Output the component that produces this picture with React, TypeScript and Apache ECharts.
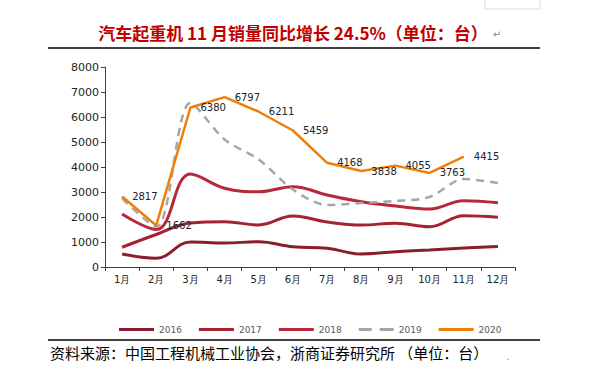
import React, { useEffect, useRef } from "react";
import * as echarts from "echarts";

const months = ["1月", "2月", "3月", "4月", "5月", "6月", "7月", "8月", "9月", "10月", "11月", "12月"];
const s2016 = [520, 350, 1000, 960, 1010, 810, 750, 520, 610, 680, 760, 820];
const s2017 = [790, 1300, 1760, 1810, 1680, 2040, 1800, 1680, 1750, 1610, 2050, 1990];
const s2018 = [2120, 1500, 3720, 3150, 3010, 3210, 2880, 2610, 2440, 2320, 2650, 2570];
const s2019 = [2750, 1600, 6560, 5100, 4300, 3100, 2480, 2560, 2640, 2800, 3520, 3360];
const s2020 = [2817, 1662, 6380, 6797, 6211, 5459, 4168, 3838, 4055, 3763, 4415];
const legendNames = ["2016", "2017", "2018", "2019", "2020"];

const titleText = "汽车起重机 11 月销量同比增长 24.5%（单位：台）";
const sourceText = "资料来源：中国工程机械工业协会，浙商证券研究所 （单位：台）";

const solidIcon = "path://M0,0h35v3h-35z";
const dashIcon = "path://M0,0h13v3h-13z M21,0h14v3h-14z";

export default function App() {
  const ref = useRef<HTMLDivElement>(null);
  useEffect(() => {
    if (!ref.current) return;
    const chart = echarts.init(ref.current, null, { renderer: "svg" });
    const redLine = (name: string, data: number[], color: string) => ({
      name,
      type: "line",
      data,
      smooth: 0.4,
      symbol: "none",
      lineStyle: { color, width: 3 },
      itemStyle: { color },
      z: 2,
    });
    chart.setOption({
      animation: false,
      backgroundColor: "#ffffff",
      grid: { left: 105, right: 85, top: 67, bottom: 112, containLabel: false },
      legend: {
        left: 114,
        top: 320,
        itemWidth: 35,
        itemHeight: 3,
        itemGap: 17,
        textStyle: { fontSize: 9, color: "#595959", fontFamily: "DejaVu Sans" },
        data: legendNames.map((n) => ({ name: n, icon: n === "2019" ? dashIcon : solidIcon })),
      },
      xAxis: {
        type: "category",
        data: months,
        boundaryGap: true,
        axisLine: { lineStyle: { color: "#404040", width: 1 } },
        axisTick: { show: true, length: 4, lineStyle: { color: "#404040" } },
        axisLabel: { fontSize: 10, color: "#222", margin: 7, fontFamily: "DejaVu Sans" },
        splitLine: { show: false },
      },
      yAxis: {
        type: "value",
        min: 0,
        max: 8000,
        interval: 1000,
        axisLine: { show: true, lineStyle: { color: "#404040", width: 1 } },
        axisTick: { show: true, length: 4, lineStyle: { color: "#404040" } },
        axisLabel: {
          fontSize: 11,
          color: "#222",
          margin: 6,
          fontFamily: "DejaVu Sans",
          formatter: (v: number) => String(v),
        },
        splitLine: { show: false },
      },
      series: [
        redLine("2016", s2016, "#8B1E2E"),
        redLine("2017", s2017, "#A52232"),
        redLine("2018", s2018, "#B8283C"),
        {
          name: "2019",
          type: "line",
          data: s2019,
          smooth: 0.3,
          symbol: "none",
          lineStyle: { color: "#A6A6A6", width: 2.5, type: [8, 6] },
          itemStyle: { color: "#A6A6A6" },
          z: 3,
        },
        {
          name: "2020",
          type: "line",
          data: s2020,
          smooth: false,
          symbol: "circle",
          symbolSize: 0.1,
          showSymbol: true,
          lineStyle: { color: "#F07F09", width: 2.5 },
          itemStyle: { color: "#F07F09" },
          z: 4,
          label: {
            show: true,
            position: "right",
            distance: 10,
            fontSize: 10,
            color: "#222",
            fontFamily: "DejaVu Sans",
          },
        },
      ],
      graphic: [
        {
          type: "rect",
          shape: { x: 485, y: -2, width: 55, height: 11 },
          style: { fill: "#fff", stroke: "#d9d9d9", lineWidth: 1 },
        },
        {
          type: "text",
          x: 293,
          y: 32,
          style: {
            text: titleText,
            fill: "#C00000",
            font: "bold 17px 'Noto Sans CJK SC'",
            textAlign: "center",
            textVerticalAlign: "middle",
          },
        },
        {
          type: "text",
          x: 497,
          y: 34,
          style: {
            text: "↵",
            fill: "#888",
            font: "10px 'DejaVu Sans'",
            textAlign: "center",
            textVerticalAlign: "middle",
          },
        },
        {
          type: "line",
          shape: { x1: 48, y1: 48, x2: 540, y2: 48 },
          style: { stroke: "#404040", lineWidth: 2 },
        },
        {
          type: "line",
          shape: { x1: 48, y1: 340, x2: 540, y2: 340 },
          style: { stroke: "#404040", lineWidth: 2 },
        },
        {
          type: "text",
          x: 50,
          y: 352,
          style: {
            text: sourceText,
            fill: "#000",
            font: "15px 'Noto Sans CJK SC'",
            textAlign: "left",
            textVerticalAlign: "middle",
          },
        },
        {
          type: "text",
          x: 508,
          y: 356,
          style: {
            text: ".",
            fill: "#888",
            font: "10px 'DejaVu Sans'",
            textAlign: "center",
            textVerticalAlign: "middle",
          },
        },
      ],
    });
    return () => chart.dispose();
  }, []);
  return (
    <div
      ref={ref}
      style={{ position: "fixed", left: 0, top: 0, width: 600, height: 379, background: "#fff" }}
    />
  );
}
